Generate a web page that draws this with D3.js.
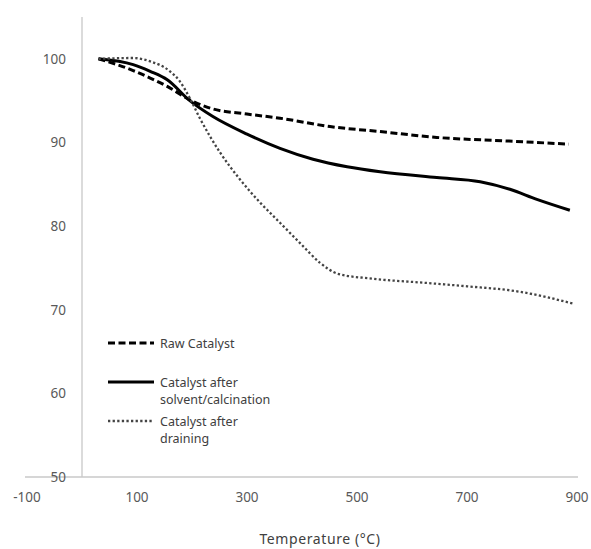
<!DOCTYPE html>
<html>
<head>
<meta charset="utf-8">
<script src="https://cdn.jsdelivr.net/npm/d3@7"></script>
<style>
  body { margin: 0; background: #fff; }
  svg { display: block; font-family: "Noto Sans", "Open Sans", sans-serif; }
</style>
</head>
<body>
<svg id="chart" width="591" height="549"></svg>
<script>
// temperature (°C) and weight (%)
var rawT = [30, 93, 124, 155, 196, 233, 300, 360, 451, 542, 645, 765, 885];
var rawW = [100, 98.6, 97.7, 96.7, 95.1, 94.1, 93.4, 92.9, 91.9, 91.3, 90.6, 90.2, 89.8];

var solventT = [30, 93, 124, 155, 196, 238, 300, 360, 420, 482, 542, 645, 724, 778, 827, 887];
var solventW = [100, 99.3, 98.5, 97.5, 95.0, 93.1, 91.0, 89.3, 88.0, 87.1, 86.5, 85.8, 85.3, 84.4, 83.2, 81.9];

var drainT = [30, 93, 124, 160, 178, 196, 215, 233, 251, 287, 324, 360, 396, 433, 465, 530, 627, 700, 791, 895];
var drainW = [100, 100.1, 99.7, 98.5, 97.3, 95.3, 92.8, 90.7, 88.8, 85.6, 82.8, 80.4, 78.0, 75.6, 74.3, 73.7, 73.2, 72.8, 72.2, 70.7];

var xTicks = [-100, 100, 300, 500, 700, 900];
var yTicks = [50, 60, 70, 80, 90, 100];

var series = [
  {name: ["Raw Catalyst"], t: rawT, w: rawW, color: "#000", width: 3, dash: "7,3.5", legendY: 343},
  {name: ["Catalyst after", "solvent/calcination"], t: solventT, w: solventW, color: "#000", width: 3, dash: null, legendY: 382},
  {name: ["Catalyst after", "draining"], t: drainT, w: drainW, color: "#444", width: 2.3, dash: "2.3,2.3", legendY: 421}
];

var svg = d3.select("#chart");

// scales, y axis crosses at 0
var x = d3.scaleLinear().domain([-100, 900]).range([27, 577]);
var y = d3.scaleLinear().domain([50, 105]).range([477, 17]);

// x axis line
svg.append("line")
  .attr("x1", 25).attr("x2", 578)
  .attr("y1", y(50)).attr("y2", y(50))
  .attr("stroke", "#c8c8c8").attr("stroke-width", 1.3);

// y axis line at 0
svg.append("line")
  .attr("x1", x(0)).attr("x2", x(0))
  .attr("y1", y(105)).attr("y2", y(50))
  .attr("stroke", "#c8c8c8").attr("stroke-width", 1.3);

svg.selectAll(".xlab")
  .data(xTicks)
  .enter().append("text")
  .attr("x", function(d){ return x(d); })
  .attr("y", 502)
  .attr("text-anchor", "middle")
  .attr("font-size", 13.5)
  .attr("fill", "#595959")
  .text(function(d){ return d; });

svg.selectAll(".ylab")
  .data(yTicks)
  .enter().append("text")
  .attr("x", 66)
  .attr("y", function(d){ return y(d) + 5; })
  .attr("text-anchor", "end")
  .attr("font-size", 13.5)
  .attr("fill", "#595959")
  .text(function(d){ return d; });

svg.append("text")
  .attr("x", 320).attr("y", 544)
  .attr("text-anchor", "middle")
  .attr("font-size", 14)
  .attr("letter-spacing", 0.6)
  .attr("fill", "#404040")
  .text("Temperature (°C)");

var line = d3.line()
  .x(function(d){ return x(d[0]); })
  .y(function(d){ return y(d[1]); })
  .curve(d3.curveMonotoneX);

series.forEach(function(s){
  var pts = s.t.map(function(t, i){ return [t, s.w[i]]; });
  svg.append("path")
    .datum(pts)
    .attr("d", line)
    .attr("fill", "none")
    .attr("stroke", s.color)
    .attr("stroke-width", s.width)
    .attr("stroke-dasharray", s.dash);

  // legend
  svg.append("line")
    .attr("x1", 108).attr("x2", 154)
    .attr("y1", s.legendY).attr("y2", s.legendY)
    .attr("stroke", s.color)
    .attr("stroke-width", s.width)
    .attr("stroke-dasharray", s.dash);

  s.name.forEach(function(txt, i){
    svg.append("text")
      .attr("x", 160)
      .attr("y", s.legendY + 4.5 + i * 17)
      .attr("font-size", 12.5)
      .attr("fill", "#404040")
      .text(txt);
  });
});
</script>
</body>
</html>
